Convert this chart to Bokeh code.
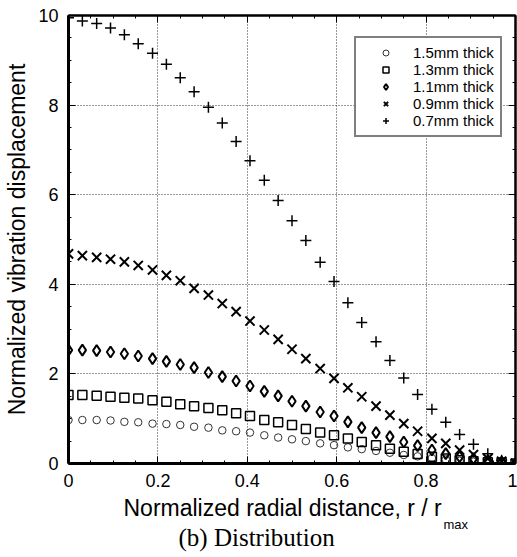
import numpy as np
from bokeh.plotting import figure
from bokeh.models import (LinearAxis, FixedTicker, Legend, LegendItem, Range1d, Title)
from bokeh.embed import file_html
from bokeh.resources import INLINE

# ---------------- data ----------------
r = [0.0, 0.031, 0.063, 0.094, 0.125, 0.156, 0.188, 0.219, 0.25, 0.281, 0.313,
     0.344, 0.375, 0.406, 0.438, 0.469, 0.5, 0.531, 0.563, 0.594, 0.625, 0.656,
     0.688, 0.719, 0.75, 0.781, 0.813, 0.844, 0.875, 0.906, 0.938, 0.969, 1.0]

disp_15 = [0.97, 0.97, 0.97, 0.96, 0.93, 0.92, 0.89, 0.88, 0.86, 0.82, 0.80, 0.74,
           0.72, 0.69, 0.63, 0.58, 0.54, 0.50, 0.45, 0.41, 0.36, 0.32, 0.28, 0.24,
           0.19, 0.16, 0.12, 0.09, 0.06, 0.04, 0.02, 0.01, 0.0]
disp_13 = [1.53, 1.53, 1.51, 1.49, 1.47, 1.45, 1.41, 1.38, 1.32, 1.28, 1.24, 1.19,
           1.12, 1.06, 0.97, 0.92, 0.86, 0.77, 0.69, 0.63, 0.56, 0.48, 0.41, 0.33,
           0.26, 0.21, 0.15, 0.11, 0.07, 0.05, 0.03, 0.02, 0.0]
disp_11 = [2.53, 2.53, 2.52, 2.49, 2.45, 2.40, 2.34, 2.28, 2.21, 2.14, 2.03, 1.94,
           1.84, 1.73, 1.61, 1.51, 1.39, 1.28, 1.15, 1.06, 0.93, 0.80, 0.69, 0.60,
           0.48, 0.40, 0.30, 0.22, 0.15, 0.11, 0.06, 0.03, 0.0]
disp_09 = [4.68, 4.64, 4.60, 4.56, 4.50, 4.42, 4.32, 4.20, 4.08, 3.91, 3.76, 3.57,
           3.39, 3.18, 2.98, 2.77, 2.55, 2.34, 2.12, 1.90, 1.69, 1.49, 1.28, 1.08,
           0.89, 0.72, 0.56, 0.45, 0.30, 0.20, 0.11, 0.05, 0.0]
disp_07 = [9.95, 9.88, 9.82, 9.72, 9.57, 9.37, 9.16, 8.91, 8.61, 8.30, 7.95, 7.60,
           7.19, 6.76, 6.32, 5.87, 5.42, 4.98, 4.49, 4.06, 3.59, 3.15, 2.72, 2.30,
           1.91, 1.54, 1.21, 0.92, 0.65, 0.43, 0.22, 0.07, 0.0]

series_labels = ["1.5mm thick", "1.3mm thick", "1.1mm thick", "0.9mm thick", "0.7mm thick"]

x_ticks = [0, 0.2, 0.4, 0.6, 0.8, 1.0]
x_tick_labels = ["0", "0.2", "0.4", "0.6", "0.8", "1"]
y_ticks = [0, 2, 4, 6, 8, 10]
y_tick_labels = ["0", "2", "4", "6", "8", "10"]

x_title = "Normalized radial distance, r / r"
x_title_sub = "max"
y_title = "Normalized vibration displacement"
caption = "(b)  Distribution"

SANS = "Liberation Sans"
SERIF = "Liberation Serif"

# ---------------- figure ----------------
p = figure(width=517, height=557, output_backend="svg", toolbar_location=None,
           x_range=Range1d(0, 1), y_range=Range1d(0, 10),
           min_border_left=68, min_border_right=2, min_border_top=15, min_border_bottom=94,
           background_fill_color="white", border_fill_color="white")
p.outline_line_color = "black"
p.outline_line_width = 2

x_minor = [float(v) for v in np.arange(0, 1.0001, 0.05)]
y_minor = [float(v) for v in np.arange(0, 10.001, 0.5)]
xt = FixedTicker(ticks=x_ticks, minor_ticks=x_minor)
yt = FixedTicker(ticks=y_ticks, minor_ticks=y_minor)

def style_axis(ax, width):
    ax.axis_line_color = "black"
    ax.axis_line_width = width
    ax.major_tick_in = 7
    ax.major_tick_out = 0
    ax.minor_tick_in = 3
    ax.minor_tick_out = 0
    ax.major_tick_line_color = "black"
    ax.minor_tick_line_color = "black"
    ax.major_tick_line_width = 1
    ax.minor_tick_line_width = 1
    ax.major_label_text_font = SANS
    ax.major_label_text_color = "black"
    ax.major_label_text_font_size = "18px"

xa = p.xaxis[0]
xa.ticker = xt
xa.major_label_overrides = {t: l for t, l in zip(x_ticks, x_tick_labels)}
style_axis(xa, 3)
xa.major_label_standoff = 10
ya = p.yaxis[0]
ya.ticker = yt
ya.major_label_overrides = {t: l for t, l in zip(y_ticks, y_tick_labels)}
style_axis(ya, 3)
ya.major_label_standoff = 10
ya.axis_label = y_title
ya.axis_label_text_font = SANS
ya.axis_label_text_font_style = "normal"
ya.axis_label_text_font_size = "23px"
ya.axis_label_text_color = "black"
ya.axis_label_standoff = 5

# top / right axes: ticks only (labels replaced by empty strings)
top = LinearAxis(ticker=xt)
style_axis(top, 2)
top.major_label_overrides = {t: "" for t in x_ticks}
top.major_label_text_font_size = "1px"
top.major_label_standoff = 0
p.add_layout(top, "above")
right = LinearAxis(ticker=yt)
style_axis(right, 2)
right.major_label_overrides = {t: "" for t in y_ticks}
right.major_label_text_font_size = "1px"
right.major_label_standoff = 0
p.add_layout(right, "right")

for g in (p.xgrid[0], p.ygrid[0]):
    g.grid_line_color = "#333333"
    g.grid_line_width = 1
    g.grid_line_dash = "1 2"
p.xgrid[0].ticker = xt
p.ygrid[0].ticker = yt

# ---------------- markers ----------------
r15 = p.scatter(r, disp_15, marker="circle", size=7.5, fill_color=None,
                line_color="#333333", line_width=1)
r13 = p.scatter(r, disp_13, marker="square", size=9, fill_color=None,
                line_color="black", line_width=1.5)
r11 = p.scatter(r, disp_11, marker="diamond", size=11, fill_color=None,
                line_color="black", line_width=2)
r09 = p.scatter(r, disp_09, marker="x", size=13, line_color="black", line_width=2)
r07 = p.scatter(r, disp_07, marker="cross", size=11, line_color="black", line_width=1.5)

renderers = [r15, r13, r11, r09, r07]
legend = Legend(items=[LegendItem(label=l, renderers=[rr]) for l, rr in zip(series_labels, renderers)],
                location=(286, 326))
legend.border_line_color = "black"
legend.border_line_width = 2
legend.background_fill_color = "white"
legend.background_fill_alpha = 1
legend.label_text_font = SANS
legend.label_text_font_size = "15px"
legend.label_text_color = "black"
legend.glyph_width = 47
legend.glyph_height = 15
legend.label_height = 15
legend.spacing = 0
legend.padding = 6
legend.margin = 0
legend.label_standoff = 4
p.add_layout(legend)

# ---------------- texts below (stacked titles) ----------------
t_x = Title(text=x_title, text_font=SANS, text_font_size="23px", text_font_style="normal",
            text_color="black", align="left", offset=55, standoff=6)
t_sub = Title(text=x_title_sub, text_font=SANS, text_font_size="13px", text_font_style="normal",
              text_color="black", align="left", offset=375, standoff=-14, vertical_align="top")
t_cap = Title(text=caption, text_font=SERIF, text_font_size="25px", text_font_style="normal",
              text_color="black", align="left", offset=110, standoff=-9)
p.add_layout(t_x, "below")
p.add_layout(t_sub, "below")
p.add_layout(t_cap, "below")

open("out.html", "w").write(file_html(p, INLINE))
